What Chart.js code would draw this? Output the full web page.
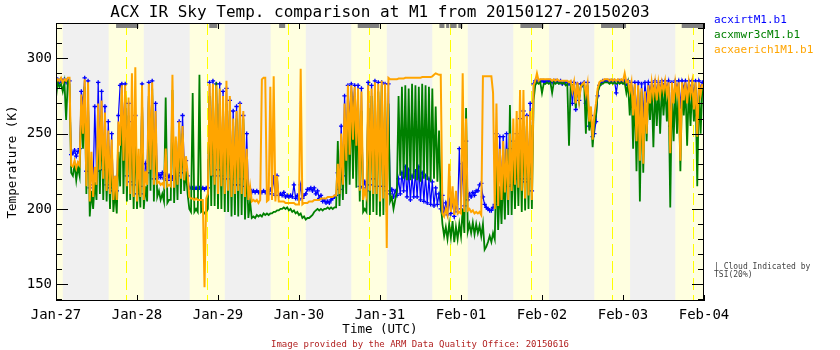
<!DOCTYPE html>
<html>
<head>
<meta charset="utf-8">
<title>ACX IR Sky Temp. comparison at M1</title>
<script src="https://cdn.jsdelivr.net/npm/chart.js@4.4.1/dist/chart.umd.min.js"></script>
<style>
  html, body { margin: 0; padding: 0; background: #fff; }
  canvas { display: block; }
</style>
</head>
<body>
<canvas id="skyTempChart" width="840" height="350"></canvas>
<script>
// Half-hourly sky temperature (K), 2015-01-27 00:00 UTC to 2015-02-04 00:00 UTC.
// One line per day, 48 samples each.
const irtM1 = [
  284,286,284,286,285,286,284,286,285,236,237,239,235,238,240,278,270,287,225,285,214,222,216,268,225,284,232,278,226,268,216,258,214,250,212,220,212,262,282,283,250,283,222,270,218,258,216,262,
  210,230,215,283,210,230,224,284,242,285,220,270,220,223,221,224,220,223,219,222,219,221,220,232,222,258,224,262,228,232,222,214,214,214,213,214,213,214,213,214,213,214,214,284,236,285,222,283,
  226,283,222,278,220,280,230,272,220,265,216,268,216,270,220,262,215,250,212,213,211,212,211,212,211,211,211,212,211,212,210,213,210,221,209,222,209,210,209,211,208,209,208,209,208,216,207,209,
  206,216,207,209,210,213,213,214,212,214,210,212,207,209,205,206,204,205,204,206,207,208,209,224,213,255,222,275,242,282,258,283,266,282,250,282,215,280,214,218,212,284,216,282,220,285,215,284,
  215,284,215,283,212,283,210,213,208,212,209,220,210,224,212,228,208,226,206,222,208,225,208,228,206,224,205,222,204,220,203,218,202,214,203,210,200,209,198,204,196,206,197,205,195,203,198,240,
  200,230,202,245,206,210,208,211,209,212,212,216,217,208,203,201,200,199,199,201,203,250,212,248,214,248,216,250,215,240,216,245,220,250,222,260,220,265,218,262,220,270,212,283,285,285,285,285,
  285,285,284,285,285,285,284,285,285,285,284,285,283,284,284,284,283,284,270,284,266,283,272,283,282,284,270,284,255,262,248,250,258,275,282,284,285,285,285,285,285,285,285,285,277,285,285,285,
  284,285,283,285,279,284,272,284,262,284,255,283,262,284,272,284,278,284,280,285,278,284,280,285,282,285,280,285,255,284,272,285,280,285,268,285,280,285,278,285,280,285,276,285,262,285,280,284
];
const mwr3cM1 = [
  274,284,281,283,278,284,259,285,283,224,222,230,219,228,222,268,240,281,210,268,195,212,200,218,206,258,210,262,206,252,205,242,200,236,198,212,197,238,215,278,210,276,205,262,206,260,200,252,
  200,225,201,270,200,215,205,275,212,280,205,250,208,212,206,210,205,274,204,206,206,279,204,240,206,255,210,250,212,225,210,200,198,277,198,200,198,289,198,199,197,198,200,275,202,280,202,284,
  200,270,200,265,198,270,198,265,195,255,196,260,195,268,196,260,193,230,194,205,194,195,194,196,195,196,195,197,196,197,196,197,197,198,198,199,199,200,200,201,200,201,199,200,198,199,197,198,
  196,197,194,195,193,194,194,195,196,198,199,200,199,200,199,200,200,201,200,201,200,201,201,245,202,238,206,255,210,270,216,278,220,275,214,272,205,265,198,200,198,270,196,275,198,280,196,278,
  195,282,196,281,198,270,205,208,200,206,212,275,222,281,220,282,219,280,219,283,220,282,219,281,218,283,220,282,219,281,218,280,220,268,218,252,205,190,182,188,180,190,181,192,178,188,180,190,
  182,200,184,267,185,190,184,191,183,190,184,189,182,190,173,175,178,182,178,184,180,230,186,215,190,225,193,240,196,269,196,240,200,245,202,250,198,258,199,255,200,258,200,272,282,284,283,284,
  277,283,283,284,283,284,277,284,283,284,283,284,283,284,282,283,242,283,282,283,267,283,272,282,282,283,250,282,252,262,241,256,262,278,281,283,283,284,284,284,283,284,283,284,283,284,283,284,
  283,284,277,283,262,282,240,281,225,280,205,278,224,276,245,280,259,281,241,282,255,281,250,282,262,281,258,281,201,281,245,281,250,281,225,281,262,281,242,281,255,281,258,281,215,281,250,280
];
const aerich1M1 = [
  284,286,285,287,284,286,285,287,287,229,228,232,227,231,229,276,250,286,215,284,205,238,208,228,216,270,226,272,220,264,212,252,210,246,206,222,206,258,242,282,232,282,215,274,210,290,208,294,
  205,240,208,282,206,225,216,283,226,284,216,265,217,218,216,217,215,240,215,216,215,289,214,248,216,258,220,255,219,235,224,208,207,207,206,207,206,206,206,206,148,207,210,283,222,283,216,282,
  210,280,215,275,210,285,212,275,208,260,210,265,212,270,210,265,208,240,206,215,205,206,205,206,204,206,286,287,287,205,206,281,206,288,205,222,205,205,205,205,204,204,204,204,204,204,203,203,
  203,293,203,204,204,204,205,205,205,206,206,206,206,207,207,207,207,208,208,208,208,209,209,230,210,250,216,270,232,282,236,282,246,281,242,280,212,278,206,212,208,282,212,280,210,284,210,283,
  205,285,207,283,174,287,286,286,286,286,286,286.5,286.5,286.5,286.5,287,287,287,287,287,287,287,287,287,287,287.5,287.5,287.5,287.5,287.5,287.5,288,289,290,289.5,289,289,197,195,200,196,230,198,215,196,212,197,198,
  197,290,198,260,199,200,198,199,197,198,197,198,196,288,288,288,288,288,288,277,200,270,202,240,206,245,211,240,206,250,212,260,216,265,214,279,212,279,207,262,209,265,206,282,285,290,285,286,
  286,286,286,286,286,286,285,286,285,286,285,285,285,285,285,285,284,285,278,284,270,284,272,281,283,284,276,283,258,268,246,262,270,280,284,285,285,286,286,286,285,286,285,286,285,286,285,286,
  285,290,284,285,278,284,262,283,245,282,232,280,230,278,250,282,270,284,275,284,272,284,276,284,278,285,276,284,237,284,270,284,276,284,232,284,272,284,270,284,276,284,266,284,248,284,276,283
];

const seriesNames = ["acxirtM1.b1", "acxmwr3cM1.b1", "acxaerich1M1.b1"];
const seriesColors = ["#0000ff", "#008000", "#ffa500"];
const dayLabels = ["Jan-27", "Jan-28", "Jan-29", "Jan-30", "Jan-31", "Feb-01", "Feb-02", "Feb-03", "Feb-04"];

// hours since Jan-27 00 UTC
const daylightStart = [-8.4, 15.6, 39.6, 63.6, 87.5, 111.5, 135.5, 159.5, 183.5];
const daylightEnd = [2.0, 26.0, 50.0, 74.0, 98.0, 122.0, 146.1, 170.1, 194.1];
const solarNoon = [20.8, 44.8, 68.8, 92.8, 116.8, 140.8, 164.8, 188.8];
const cloudStart = [17.8, 45.4, 66.1, 89.4, 113.6, 115.6, 116.8, 119.2, 137.6, 161.5, 185.4];
const cloudEnd = [24.4, 47.8, 67.9, 95.8, 115.1, 116.5, 118.7, 120.4, 144.4, 168.9, 192.0];

const FONT = "'DejaVu Sans Mono', monospace";
Chart.defaults.font.family = FONT;
Chart.defaults.color = "#000";

const halfHourly = (values) => values.map((v, i) => ({ x: i / 2, y: v }));

// day/night shading, noon markers and TSI cloud flags under the data;
// frame, inward ticks and the loose text on top
const decorations = {
  id: "decorations",
  beforeDraw(chart) {
    const { ctx, chartArea: a, scales: { x } } = chart;
    const h = a.bottom - a.top;
    ctx.save();
    ctx.fillStyle = "#f0f0f0";
    ctx.fillRect(a.left, a.top, a.right - a.left, h);

    ctx.fillStyle = "#ffffe0";
    daylightStart.forEach((s, i) => {
      const x0 = Math.max(a.left, x.getPixelForValue(s));
      const x1 = Math.min(a.right, x.getPixelForValue(daylightEnd[i]));
      if (x1 > x0) ctx.fillRect(x0, a.top, x1 - x0, h);
    });

    ctx.strokeStyle = "#ffff00";
    ctx.lineWidth = 1;
    ctx.setLineDash([12, 5]);
    solarNoon.forEach((t) => {
      const px = Math.round(x.getPixelForValue(t)) + 0.5;
      ctx.beginPath();
      ctx.moveTo(px, a.top);
      ctx.lineTo(px, a.bottom);
      ctx.stroke();
    });
    ctx.setLineDash([]);

    ctx.fillStyle = "#808080";
    cloudStart.forEach((s, i) => {
      const x0 = x.getPixelForValue(s);
      const x1 = Math.min(a.right, x.getPixelForValue(cloudEnd[i]));
      ctx.fillRect(x0, a.top, x1 - x0, 5);
    });
    ctx.restore();
  },
  afterDraw(chart) {
    const { ctx, chartArea: a, scales: { x, y } } = chart;
    ctx.save();
    ctx.strokeStyle = "#000";
    ctx.lineWidth = 1;
    ctx.strokeRect(a.left + 0.5, a.top + 0.5, a.right - a.left - 1, a.bottom - a.top - 1);

    ctx.beginPath();
    y.ticks.forEach((t) => {
      const py = Math.round(y.getPixelForValue(t.value)) + 0.5;
      const len = t.value % 50 === 0 ? 12 : 6;
      ctx.moveTo(a.left, py); ctx.lineTo(a.left + len, py);
      ctx.moveTo(a.right, py); ctx.lineTo(a.right - len, py);
    });
    x.ticks.forEach((t) => {
      const px = Math.round(x.getPixelForValue(t.value)) + 0.5;
      ctx.moveTo(px, a.bottom); ctx.lineTo(px, a.bottom - 6);
      ctx.moveTo(px, a.top); ctx.lineTo(px, a.top + 6);
    });
    ctx.stroke();

    ctx.fillStyle = "#000";
    ctx.textAlign = "center";
    ctx.textBaseline = "alphabetic";
    ctx.font = "16px " + FONT;
    ctx.fillText("ACX IR Sky Temp. comparison at M1 from 20150127-20150203", (a.left + a.right) / 2, 17);

    ctx.textAlign = "left";
    ctx.font = "11px " + FONT;
    seriesNames.forEach((name, i) => {
      ctx.fillStyle = seriesColors[i];
      ctx.fillText(name, 714, 23 + i * 15);
    });

    ctx.fillStyle = "#444";
    ctx.font = "8px " + FONT;
    ctx.fillText("| Cloud Indicated by", 714, 269);
    ctx.fillText("TSI(20%)", 714, 277);

    ctx.fillStyle = "#b22222";
    ctx.textAlign = "center";
    ctx.font = "9px " + FONT;
    ctx.fillText("Image provided by the ARM Data Quality Office: 20150616", 420, 347);
    ctx.restore();
  }
};

const chartCanvas = document.getElementById("skyTempChart");

new Chart(chartCanvas, {
  type: "line",
  data: {
    datasets: [
      {
        label: seriesNames[0],
        data: halfHourly(irtM1),
        borderColor: seriesColors[0],
        borderWidth: 1.2,
        pointStyle: "cross",
        pointRadius: 2.2,
        pointBorderWidth: 1.3,
        pointBorderColor: seriesColors[0],
        order: 3,
      },
      {
        label: seriesNames[1],
        data: halfHourly(mwr3cM1),
        borderColor: seriesColors[1],
        borderWidth: 1.8,
        pointRadius: 0,
        order: 2,
      },
      {
        label: seriesNames[2],
        data: halfHourly(aerich1M1),
        borderColor: seriesColors[2],
        borderWidth: 2,
        pointRadius: 0,
        order: 1,
      },
    ],
  },
  options: {
    responsive: false,
    animation: false,
    devicePixelRatio: 1,
    layout: { padding: { top: 23, right: 136, left: 0, bottom: 0 } },
    elements: { line: { tension: 0 } },
    plugins: {
      legend: { display: false },
      tooltip: { enabled: false },
    },
    scales: {
      x: {
        type: "linear",
        min: 0,
        max: 192,
        afterFit: (scale) => { scale.height = 49; },
        grid: { display: false, drawTicks: false },
        border: { display: false },
        ticks: {
          stepSize: 24,
          autoSkip: false,
          maxRotation: 0,
          padding: 6,
          font: { size: 14 },
          callback: (v) => dayLabels[v / 24],
        },
        title: { display: true, text: "Time (UTC)", font: { size: 12.5 }, padding: { top: 0, bottom: 12.5 } },
      },
      y: {
        min: 138.9,
        max: 323.4,
        afterFit: (scale) => { scale.width = 56; },
        grid: { display: false, drawTicks: false },
        border: { display: false },
        ticks: {
          stepSize: 10,
          includeBounds: false,
          autoSkip: false,
          padding: 4,
          font: { size: 14 },
          callback: (v) => (v % 50 === 0 ? v : ""),
        },
        title: { display: true, text: "Temperature (K)", font: { size: 12.5 }, padding: { top: 5 } },
      },
    },
  },
  plugins: [decorations],
});
</script>
</body>
</html>
